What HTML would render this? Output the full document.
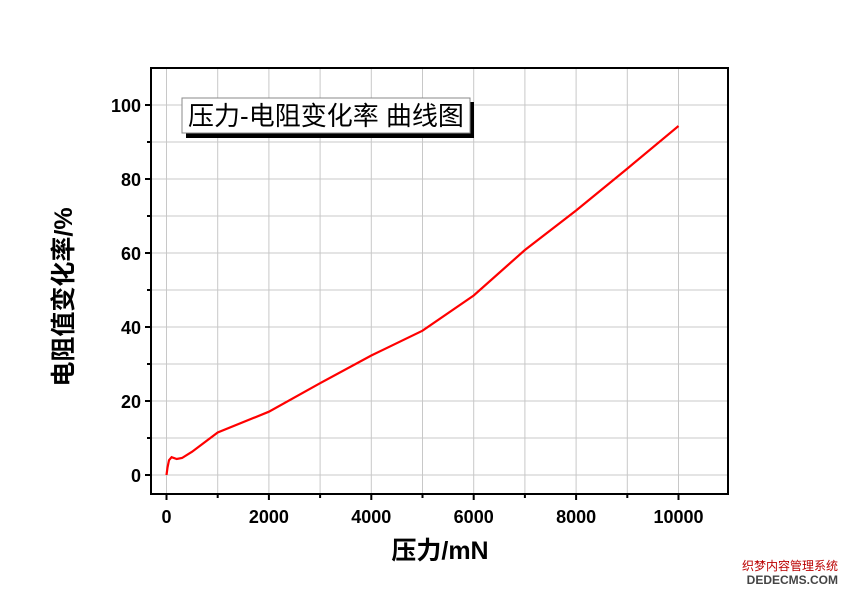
<!DOCTYPE html>
<html><head><meta charset="utf-8"><style>body{margin:0;background:#fff}</style></head><body>
<svg width="847" height="593" xmlns="http://www.w3.org/2000/svg" font-family="Liberation Sans, Noto Sans CJK SC, sans-serif">
<rect width="847" height="593" fill="#fff"/>
<g stroke="#c8c8c8" stroke-width="1">
<line x1="217.7" y1="68" x2="217.7" y2="494"/><line x1="268.9" y1="68" x2="268.9" y2="494"/>
<line x1="320.1" y1="68" x2="320.1" y2="494"/><line x1="371.3" y1="68" x2="371.3" y2="494"/>
<line x1="422.5" y1="68" x2="422.5" y2="494"/><line x1="473.7" y1="68" x2="473.7" y2="494"/>
<line x1="524.9" y1="68" x2="524.9" y2="494"/><line x1="576.1" y1="68" x2="576.1" y2="494"/>
<line x1="627.3" y1="68" x2="627.3" y2="494"/><line x1="678.5" y1="68" x2="678.5" y2="494"/>
<line x1="166.5" y1="68" x2="166.5" y2="494"/>
<line x1="151" y1="475" x2="728" y2="475"/><line x1="151" y1="438" x2="728" y2="438"/>
<line x1="151" y1="401" x2="728" y2="401"/><line x1="151" y1="364" x2="728" y2="364"/>
<line x1="151" y1="327" x2="728" y2="327"/><line x1="151" y1="290" x2="728" y2="290"/>
<line x1="151" y1="253" x2="728" y2="253"/><line x1="151" y1="216" x2="728" y2="216"/>
<line x1="151" y1="179" x2="728" y2="179"/><line x1="151" y1="142" x2="728" y2="142"/>
<line x1="151" y1="105" x2="728" y2="105"/>
</g>
<rect x="151" y="68" width="577" height="426" fill="none" stroke="#000" stroke-width="2"/>
<g stroke="#000" stroke-width="2">
<line x1="145" y1="475" x2="151" y2="475"/><line x1="145" y1="401" x2="151" y2="401"/><line x1="145" y1="327" x2="151" y2="327"/><line x1="145" y1="253" x2="151" y2="253"/><line x1="145" y1="179" x2="151" y2="179"/><line x1="145" y1="105" x2="151" y2="105"/>
<line x1="147" y1="438" x2="151" y2="438"/><line x1="147" y1="364" x2="151" y2="364"/><line x1="147" y1="290" x2="151" y2="290"/><line x1="147" y1="216" x2="151" y2="216"/><line x1="147" y1="142" x2="151" y2="142"/>
<line x1="166.5" y1="494" x2="166.5" y2="500"/><line x1="268.9" y1="494" x2="268.9" y2="500"/><line x1="371.3" y1="494" x2="371.3" y2="500"/><line x1="473.7" y1="494" x2="473.7" y2="500"/><line x1="576.1" y1="494" x2="576.1" y2="500"/><line x1="678.5" y1="494" x2="678.5" y2="500"/>
<line x1="217.7" y1="494" x2="217.7" y2="498"/><line x1="320.1" y1="494" x2="320.1" y2="498"/><line x1="422.5" y1="494" x2="422.5" y2="498"/><line x1="524.9" y1="494" x2="524.9" y2="498"/><line x1="627.3" y1="494" x2="627.3" y2="498"/>
</g>
<g font-size="18" font-weight="bold" text-anchor="end">
<text x="141" y="482">0</text><text x="141" y="408">20</text><text x="141" y="334">40</text><text x="141" y="260">60</text><text x="141" y="186">80</text><text x="141" y="112">100</text>
</g>
<g font-size="18" font-weight="bold" text-anchor="middle">
<text x="166.5" y="523">0</text><text x="268.9" y="523">2000</text><text x="371.3" y="523">4000</text><text x="473.7" y="523">6000</text><text x="576.1" y="523">8000</text><text x="678.5" y="523">10000</text>
</g>
<text x="440" y="559" font-size="25" font-weight="bold" text-anchor="middle">压力/mN</text>
<text transform="translate(72,297) rotate(-90)" font-size="25" font-weight="bold" text-anchor="middle">电阻值变化率/%</text>
<rect x="186" y="102" width="288" height="36" fill="#000"/>
<rect x="182" y="98" width="288" height="35" fill="#fff" stroke="#888" stroke-width="1"/>
<text x="326" y="125" font-size="26" text-anchor="middle">压力-电阻变化率 曲线图</text>
<polyline fill="none" stroke="#f00" stroke-width="2.2" points="166.5,475 167.5,467.6 169,460.2 171.6,457.2 176.7,459 182,458 192.1,451.7 217.7,432.5 268.9,411.7 320.1,383.2 371.3,355.5 422.5,330.7 473.7,295.5 524.9,250 576.1,210.5 627.3,168.6 678.5,126"/>
<text x="838" y="570" font-size="12" fill="#b00" text-anchor="end">织梦内容管理系统</text>
<text x="838" y="584" font-size="12" font-weight="bold" fill="#444" text-anchor="end">DEDECMS.COM</text>
</svg>
</body></html>
